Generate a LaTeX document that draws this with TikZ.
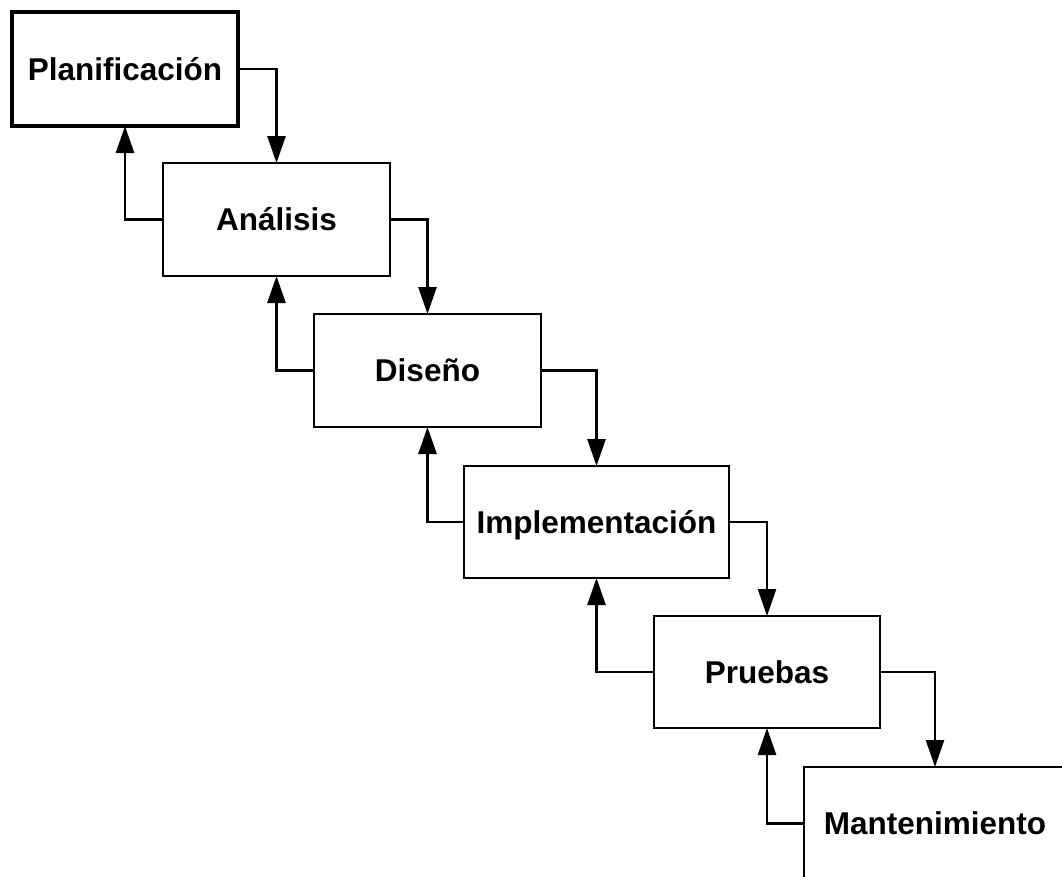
\documentclass[tikz,border=0pt]{standalone}
\usepackage{fontspec}
\setmainfont{Liberation Sans}
\usetikzlibrary{arrows.meta}
\begin{document}
\begin{tikzpicture}[x=1pt,y=-1pt,
  stage/.style={draw=black, line width=2.6pt, fill=white, minimum height=113pt,
    inner sep=0pt, outer sep=0pt, text height=22.5pt, text depth=0pt,
    font=\fontsize{31.5}{36}\selectfont\bfseries},
  flow/.style={line width=2.6pt, -{Triangle[length=27pt,width=18pt]}}]
\useasboundingbox (0,0) rectangle (1062,876);
\clip (0,0) rectangle (1062,876);
\fill[white] (0,0) rectangle (1062,876);
\node[stage, line width=4pt, minimum width=226pt, minimum height=114pt] (plan) at (125,69) {Planificación};
\node[stage, minimum width=227pt] (anal) at (276.5,219.5) {Análisis};
\node[stage, minimum width=227pt] (dise) at (427.5,370.5) {Diseño};
\node[stage, minimum width=265pt, minimum height=112pt] (impl) at (596.5,522) {Implementación};
\node[stage, minimum width=226pt, minimum height=112pt] (prue) at (767,672) {Pruebas};
\node[stage, minimum width=262pt] (mant) at (935,823.5) {Mantenimiento};
\draw[flow] (plan.east) -| (anal.north);
\draw[flow] (anal.west) -| (plan.south);
\draw[flow] (anal.east) -| (dise.north);
\draw[flow] (dise.west) -| (anal.south);
\draw[flow] (dise.east) -| (impl.north);
\draw[flow] (impl.west) -| (dise.south);
\draw[flow] (impl.east) -| (prue.north);
\draw[flow] (prue.west) -| (impl.south);
\draw[flow] (prue.east) -| (mant.north);
\draw[flow] (mant.west) -| (prue.south);
\end{tikzpicture}
\end{document}
